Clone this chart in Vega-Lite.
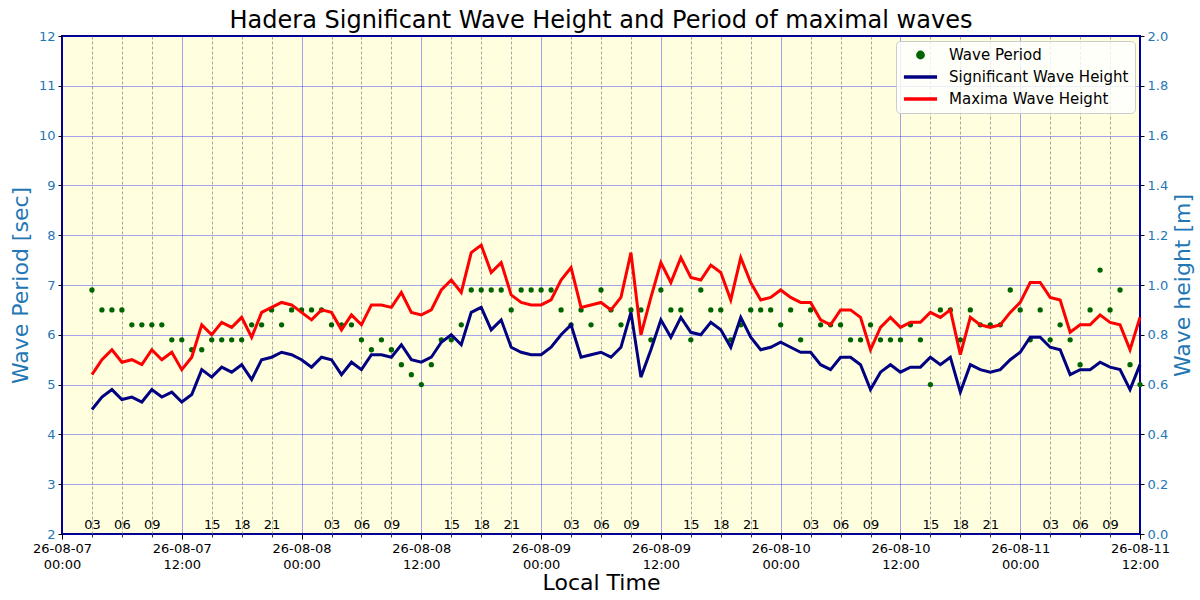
{
  "$schema": "https://vega.github.io/schema/vega-lite/v6.json",
  "width": 1078,
  "height": 498,
  "autosize": "none",
  "padding": {"left": 62, "top": 36, "right": 60, "bottom": 66},
  "title": {"text": "Hadera Significant Wave Height and Period of maximal waves", "fontSize": 24, "fontWeight": "normal", "offset": -3},
  "data": {
    "values": [
      {"t": "2026-08-07T03:00", "period": 6.9, "hs": 0.50, "hmax": 0.64},
      {"t": "2026-08-07T04:00", "period": 6.5, "hs": 0.55, "hmax": 0.70},
      {"t": "2026-08-07T05:00", "period": 6.5, "hs": 0.58, "hmax": 0.74},
      {"t": "2026-08-07T06:00", "period": 6.5, "hs": 0.54, "hmax": 0.69},
      {"t": "2026-08-07T07:00", "period": 6.2, "hs": 0.55, "hmax": 0.70},
      {"t": "2026-08-07T08:00", "period": 6.2, "hs": 0.53, "hmax": 0.68},
      {"t": "2026-08-07T09:00", "period": 6.2, "hs": 0.58, "hmax": 0.74},
      {"t": "2026-08-07T10:00", "period": 6.2, "hs": 0.55, "hmax": 0.70},
      {"t": "2026-08-07T11:00", "period": 5.9, "hs": 0.57, "hmax": 0.73},
      {"t": "2026-08-07T12:00", "period": 5.9, "hs": 0.53, "hmax": 0.66},
      {"t": "2026-08-07T13:00", "period": 5.7, "hs": 0.56, "hmax": 0.71},
      {"t": "2026-08-07T14:00", "period": 5.7, "hs": 0.66, "hmax": 0.84},
      {"t": "2026-08-07T15:00", "period": 5.9, "hs": 0.63, "hmax": 0.80},
      {"t": "2026-08-07T16:00", "period": 5.9, "hs": 0.67, "hmax": 0.85},
      {"t": "2026-08-07T17:00", "period": 5.9, "hs": 0.65, "hmax": 0.83},
      {"t": "2026-08-07T18:00", "period": 5.9, "hs": 0.68, "hmax": 0.87},
      {"t": "2026-08-07T19:00", "period": 6.2, "hs": 0.62, "hmax": 0.79},
      {"t": "2026-08-07T20:00", "period": 6.2, "hs": 0.70, "hmax": 0.89},
      {"t": "2026-08-07T21:00", "period": 6.5, "hs": 0.71, "hmax": 0.91},
      {"t": "2026-08-07T22:00", "period": 6.2, "hs": 0.73, "hmax": 0.93},
      {"t": "2026-08-07T23:00", "period": 6.5, "hs": 0.72, "hmax": 0.92},
      {"t": "2026-08-08T00:00", "period": 6.5, "hs": 0.70, "hmax": 0.89},
      {"t": "2026-08-08T01:00", "period": 6.5, "hs": 0.67, "hmax": 0.86},
      {"t": "2026-08-08T02:00", "period": 6.5, "hs": 0.71, "hmax": 0.90},
      {"t": "2026-08-08T03:00", "period": 6.2, "hs": 0.70, "hmax": 0.89},
      {"t": "2026-08-08T04:00", "period": 6.2, "hs": 0.64, "hmax": 0.82},
      {"t": "2026-08-08T05:00", "period": 6.2, "hs": 0.69, "hmax": 0.88},
      {"t": "2026-08-08T06:00", "period": 5.9, "hs": 0.66, "hmax": 0.84},
      {"t": "2026-08-08T07:00", "period": 5.7, "hs": 0.72, "hmax": 0.92},
      {"t": "2026-08-08T08:00", "period": 5.9, "hs": 0.72, "hmax": 0.92},
      {"t": "2026-08-08T09:00", "period": 5.7, "hs": 0.71, "hmax": 0.91},
      {"t": "2026-08-08T10:00", "period": 5.4, "hs": 0.76, "hmax": 0.97},
      {"t": "2026-08-08T11:00", "period": 5.2, "hs": 0.70, "hmax": 0.89},
      {"t": "2026-08-08T12:00", "period": 5.0, "hs": 0.69, "hmax": 0.88},
      {"t": "2026-08-08T13:00", "period": 5.4, "hs": 0.71, "hmax": 0.90},
      {"t": "2026-08-08T14:00", "period": 5.9, "hs": 0.77, "hmax": 0.98},
      {"t": "2026-08-08T15:00", "period": 5.9, "hs": 0.80, "hmax": 1.02},
      {"t": "2026-08-08T16:00", "period": 6.2, "hs": 0.76, "hmax": 0.97},
      {"t": "2026-08-08T17:00", "period": 6.9, "hs": 0.89, "hmax": 1.13},
      {"t": "2026-08-08T18:00", "period": 6.9, "hs": 0.91, "hmax": 1.16},
      {"t": "2026-08-08T19:00", "period": 6.9, "hs": 0.82, "hmax": 1.05},
      {"t": "2026-08-08T20:00", "period": 6.9, "hs": 0.86, "hmax": 1.09},
      {"t": "2026-08-08T21:00", "period": 6.5, "hs": 0.75, "hmax": 0.96},
      {"t": "2026-08-08T22:00", "period": 6.9, "hs": 0.73, "hmax": 0.93},
      {"t": "2026-08-08T23:00", "period": 6.9, "hs": 0.72, "hmax": 0.92},
      {"t": "2026-08-09T00:00", "period": 6.9, "hs": 0.72, "hmax": 0.92},
      {"t": "2026-08-09T01:00", "period": 6.9, "hs": 0.75, "hmax": 0.94},
      {"t": "2026-08-09T02:00", "period": 6.5, "hs": 0.80, "hmax": 1.02},
      {"t": "2026-08-09T03:00", "period": 6.2, "hs": 0.84, "hmax": 1.07},
      {"t": "2026-08-09T04:00", "period": 6.5, "hs": 0.71, "hmax": 0.91},
      {"t": "2026-08-09T05:00", "period": 6.2, "hs": 0.72, "hmax": 0.92},
      {"t": "2026-08-09T06:00", "period": 6.9, "hs": 0.73, "hmax": 0.93},
      {"t": "2026-08-09T07:00", "period": 6.5, "hs": 0.71, "hmax": 0.90},
      {"t": "2026-08-09T08:00", "period": 6.2, "hs": 0.75, "hmax": 0.95},
      {"t": "2026-08-09T09:00", "period": 6.5, "hs": 0.89, "hmax": 1.13},
      {"t": "2026-08-09T10:00", "period": 6.5, "hs": 0.63, "hmax": 0.80},
      {"t": "2026-08-09T11:00", "period": 5.9, "hs": 0.74, "hmax": 0.95},
      {"t": "2026-08-09T12:00", "period": 6.9, "hs": 0.86, "hmax": 1.09},
      {"t": "2026-08-09T13:00", "period": 6.5, "hs": 0.79, "hmax": 1.01},
      {"t": "2026-08-09T14:00", "period": 6.5, "hs": 0.87, "hmax": 1.11},
      {"t": "2026-08-09T15:00", "period": 5.9, "hs": 0.81, "hmax": 1.03},
      {"t": "2026-08-09T16:00", "period": 6.9, "hs": 0.80, "hmax": 1.02},
      {"t": "2026-08-09T17:00", "period": 6.5, "hs": 0.85, "hmax": 1.08},
      {"t": "2026-08-09T18:00", "period": 6.5, "hs": 0.82, "hmax": 1.05},
      {"t": "2026-08-09T19:00", "period": 5.9, "hs": 0.75, "hmax": 0.94},
      {"t": "2026-08-09T20:00", "period": 6.2, "hs": 0.87, "hmax": 1.11},
      {"t": "2026-08-09T21:00", "period": 6.5, "hs": 0.79, "hmax": 1.01},
      {"t": "2026-08-09T22:00", "period": 6.5, "hs": 0.74, "hmax": 0.94},
      {"t": "2026-08-09T23:00", "period": 6.5, "hs": 0.75, "hmax": 0.95},
      {"t": "2026-08-10T00:00", "period": 6.2, "hs": 0.77, "hmax": 0.98},
      {"t": "2026-08-10T01:00", "period": 6.5, "hs": 0.75, "hmax": 0.95},
      {"t": "2026-08-10T02:00", "period": 5.9, "hs": 0.73, "hmax": 0.93},
      {"t": "2026-08-10T03:00", "period": 6.5, "hs": 0.73, "hmax": 0.93},
      {"t": "2026-08-10T04:00", "period": 6.2, "hs": 0.68, "hmax": 0.86},
      {"t": "2026-08-10T05:00", "period": 6.2, "hs": 0.66, "hmax": 0.84},
      {"t": "2026-08-10T06:00", "period": 6.2, "hs": 0.71, "hmax": 0.90},
      {"t": "2026-08-10T07:00", "period": 5.9, "hs": 0.71, "hmax": 0.90},
      {"t": "2026-08-10T08:00", "period": 5.9, "hs": 0.68, "hmax": 0.87},
      {"t": "2026-08-10T09:00", "period": 6.2, "hs": 0.58, "hmax": 0.74},
      {"t": "2026-08-10T10:00", "period": 5.9, "hs": 0.65, "hmax": 0.83},
      {"t": "2026-08-10T11:00", "period": 5.9, "hs": 0.68, "hmax": 0.87},
      {"t": "2026-08-10T12:00", "period": 5.9, "hs": 0.65, "hmax": 0.83},
      {"t": "2026-08-10T13:00", "period": 6.2, "hs": 0.67, "hmax": 0.85},
      {"t": "2026-08-10T14:00", "period": 5.9, "hs": 0.67, "hmax": 0.85},
      {"t": "2026-08-10T15:00", "period": 5.0, "hs": 0.71, "hmax": 0.89},
      {"t": "2026-08-10T16:00", "period": 6.5, "hs": 0.68, "hmax": 0.87},
      {"t": "2026-08-10T17:00", "period": 6.5, "hs": 0.71, "hmax": 0.90},
      {"t": "2026-08-10T18:00", "period": 5.9, "hs": 0.57, "hmax": 0.72},
      {"t": "2026-08-10T19:00", "period": 6.5, "hs": 0.68, "hmax": 0.87},
      {"t": "2026-08-10T20:00", "period": 6.2, "hs": 0.66, "hmax": 0.84},
      {"t": "2026-08-10T21:00", "period": 6.2, "hs": 0.65, "hmax": 0.83},
      {"t": "2026-08-10T22:00", "period": 6.2, "hs": 0.66, "hmax": 0.84},
      {"t": "2026-08-10T23:00", "period": 6.9, "hs": 0.70, "hmax": 0.89},
      {"t": "2026-08-11T00:00", "period": 6.5, "hs": 0.73, "hmax": 0.93},
      {"t": "2026-08-11T01:00", "period": 5.9, "hs": 0.79, "hmax": 1.01},
      {"t": "2026-08-11T02:00", "period": 6.5, "hs": 0.79, "hmax": 1.01},
      {"t": "2026-08-11T03:00", "period": 5.9, "hs": 0.75, "hmax": 0.95},
      {"t": "2026-08-11T04:00", "period": 6.2, "hs": 0.74, "hmax": 0.94},
      {"t": "2026-08-11T05:00", "period": 5.9, "hs": 0.64, "hmax": 0.81},
      {"t": "2026-08-11T06:00", "period": 5.4, "hs": 0.66, "hmax": 0.84},
      {"t": "2026-08-11T07:00", "period": 6.5, "hs": 0.66, "hmax": 0.84},
      {"t": "2026-08-11T08:00", "period": 7.3, "hs": 0.69, "hmax": 0.88},
      {"t": "2026-08-11T09:00", "period": 6.5, "hs": 0.67, "hmax": 0.85},
      {"t": "2026-08-11T10:00", "period": 6.9, "hs": 0.66, "hmax": 0.84},
      {"t": "2026-08-11T11:00", "period": 5.4, "hs": 0.58, "hmax": 0.74},
      {"t": "2026-08-11T12:00", "period": 5.0, "hs": 0.68, "hmax": 0.87}
    ]
  },
  "layer": [
    {
      "mark": {"type": "point", "filled": true, "size": 28, "opacity": 1},
      "encoding": {
        "x": {
          "field": "t", "type": "temporal",
          "scale": {"domain": [{"year": 2026, "month": 8, "date": 7, "hours": 0}, {"year": 2026, "month": 8, "date": 11, "hours": 12}], "nice": false},
          "axis": {
            "orient": "bottom", "title": null, "domain": false,
            "values": [
              {"year": 2026, "month": 8, "date": 7, "hours": 3}, {"year": 2026, "month": 8, "date": 7, "hours": 6}, {"year": 2026, "month": 8, "date": 7, "hours": 9},
              {"year": 2026, "month": 8, "date": 7, "hours": 15}, {"year": 2026, "month": 8, "date": 7, "hours": 18}, {"year": 2026, "month": 8, "date": 7, "hours": 21},
              {"year": 2026, "month": 8, "date": 8, "hours": 3}, {"year": 2026, "month": 8, "date": 8, "hours": 6}, {"year": 2026, "month": 8, "date": 8, "hours": 9},
              {"year": 2026, "month": 8, "date": 8, "hours": 15}, {"year": 2026, "month": 8, "date": 8, "hours": 18}, {"year": 2026, "month": 8, "date": 8, "hours": 21},
              {"year": 2026, "month": 8, "date": 9, "hours": 3}, {"year": 2026, "month": 8, "date": 9, "hours": 6}, {"year": 2026, "month": 8, "date": 9, "hours": 9},
              {"year": 2026, "month": 8, "date": 9, "hours": 15}, {"year": 2026, "month": 8, "date": 9, "hours": 18}, {"year": 2026, "month": 8, "date": 9, "hours": 21},
              {"year": 2026, "month": 8, "date": 10, "hours": 3}, {"year": 2026, "month": 8, "date": 10, "hours": 6}, {"year": 2026, "month": 8, "date": 10, "hours": 9},
              {"year": 2026, "month": 8, "date": 10, "hours": 15}, {"year": 2026, "month": 8, "date": 10, "hours": 18}, {"year": 2026, "month": 8, "date": 10, "hours": 21},
              {"year": 2026, "month": 8, "date": 11, "hours": 3}, {"year": 2026, "month": 8, "date": 11, "hours": 6}, {"year": 2026, "month": 8, "date": 11, "hours": 9}
            ],
            "format": "%H",
            "labelFontSize": 13, "labelColor": "black", "labelPadding": -19,
            "labelFlush": false, "labelOverlap": false,
            "ticks": true, "tickSize": 3, "tickColor": "black", "tickWidth": 0.8,
            "grid": true, "gridColor": "#808080", "gridDash": [3, 2], "gridWidth": 0.7
          }
        },
        "y": {
          "field": "period", "type": "quantitative",
          "scale": {"domain": [2, 12], "nice": false, "zero": false},
          "axis": {
            "orient": "left", "title": "Wave Period [sec]", "values": [2, 3, 4, 5, 6, 7, 8, 9, 10, 11, 12],
            "grid": true, "gridColor": "#0000ff", "gridOpacity": 0.45, "gridWidth": 0.8,
            "domain": false, "tickColor": "black", "tickSize": 4,
            "labelColor": "#1f77b4", "labelFontSize": 13, "labelPadding": 3,
            "titleColor": "#1f77b4", "titleFontSize": 22, "titleFontWeight": "normal", "titlePadding": 6
          }
        },
        "color": {
          "datum": "period", "type": "nominal", "title": null,
          "scale": {"domain": ["period", "hs", "hmax"], "range": ["#006400", "#000080", "#ff0000"]},
          "legend": {
            "orient": "top-right", "offset": 5, "title": null,
            "labelExpr": "datum.label == 'period' ? 'Wave Period' : datum.label == 'hs' ? 'Significant Wave Height' : 'Maxima Wave Height'",
            "labelFontSize": 15, "labelLimit": 300, "labelOffset": 10,
            "symbolType": "stroke", "symbolSize": 1100, "symbolStrokeWidth": 3.5,
            "clipHeight": 16, "rowPadding": 6, "padding": 6,
            "fillColor": "rgba(255,255,255,0.8)", "strokeColor": "#cccccc", "cornerRadius": 4,
            "encode": {
              "symbols": {
                "update": {
                  "shape": {"signal": "datum.value == 'period' ? 'circle' : 'stroke'"},
                  "size": {"signal": "datum.value == 'period' ? 28 : 1100"},
                  "fill": {"signal": "datum.value == 'period' ? '#006400' : 'transparent'"},
                  "stroke": {"signal": "datum.value == 'period' ? 'transparent' : datum.value == 'hs' ? '#000080' : '#ff0000'"},
                  "strokeWidth": {"value": 3.5},
                  "opacity": {"value": 1}
                }
              }
            }
          }
        }
      }
    },
    {
      "transform": [{"fold": ["hs", "hmax"], "as": ["series", "height"]}],
      "mark": {"type": "line", "strokeWidth": 3},
      "encoding": {
        "x": {
          "field": "t", "type": "temporal",
          "axis": {
            "orient": "bottom", "title": "Local Time", "titleFontSize": 22, "titleFontWeight": "normal", "titlePadding": 1,
            "domain": false,
            "values": [
              {"year": 2026, "month": 8, "date": 7, "hours": 0}, {"year": 2026, "month": 8, "date": 7, "hours": 12},
              {"year": 2026, "month": 8, "date": 8, "hours": 0}, {"year": 2026, "month": 8, "date": 8, "hours": 12},
              {"year": 2026, "month": 8, "date": 9, "hours": 0}, {"year": 2026, "month": 8, "date": 9, "hours": 12},
              {"year": 2026, "month": 8, "date": 10, "hours": 0}, {"year": 2026, "month": 8, "date": 10, "hours": 12},
              {"year": 2026, "month": 8, "date": 11, "hours": 0}, {"year": 2026, "month": 8, "date": 11, "hours": 12}
            ],
            "labelExpr": "[timeFormat(datum.value, '%y-%m-%d'), timeFormat(datum.value, '%H:%M')]",
            "labelFontSize": 13, "labelColor": "black", "labelLineHeight": 16, "labelPadding": 3,
            "labelFlush": false, "labelOverlap": false,
            "ticks": true, "tickSize": 5, "tickColor": "black",
            "grid": true, "gridColor": "#0000ff", "gridOpacity": 0.45, "gridWidth": 0.8
          }
        },
        "y": {
          "field": "height", "type": "quantitative",
          "scale": {"domain": [0, 2], "nice": false},
          "axis": {
            "orient": "right", "title": "Wave height [m]", "titleAngle": 270, "titleBaseline": "top",
            "values": [0, 0.2, 0.4, 0.6, 0.8, 1.0, 1.2, 1.4, 1.6, 1.8, 2.0], "format": ".1f",
            "grid": false, "domain": false, "tickColor": "black", "tickSize": 4,
            "labelColor": "#1f77b4", "labelFontSize": 13, "labelPadding": 3,
            "titleColor": "#1f77b4", "titleFontSize": 22, "titleFontWeight": "normal", "titlePadding": 5
          }
        },
        "color": {
          "field": "series", "type": "nominal", "title": null,
          "legend": {
            "orient": "top-right", "offset": 5, "title": null,
            "labelExpr": "datum.label == 'period' ? 'Wave Period' : datum.label == 'hs' ? 'Significant Wave Height' : 'Maxima Wave Height'",
            "labelFontSize": 15, "labelLimit": 300, "labelOffset": 10,
            "symbolType": "stroke", "symbolSize": 1100, "symbolStrokeWidth": 3.5,
            "clipHeight": 16, "rowPadding": 6, "padding": 6,
            "fillColor": "rgba(255,255,255,0.8)", "strokeColor": "#cccccc", "cornerRadius": 4,
            "encode": {
              "symbols": {
                "update": {
                  "shape": {"signal": "datum.value == 'period' ? 'circle' : 'stroke'"},
                  "size": {"signal": "datum.value == 'period' ? 28 : 1100"},
                  "fill": {"signal": "datum.value == 'period' ? '#006400' : 'transparent'"},
                  "stroke": {"signal": "datum.value == 'period' ? 'transparent' : datum.value == 'hs' ? '#000080' : '#ff0000'"},
                  "strokeWidth": {"value": 3.5},
                  "opacity": {"value": 1}
                }
              }
            }
          }
        }
      }
    }
  ],
  "resolve": {"scale": {"y": "independent"}, "axis": {"x": "independent"}},
  "config": {
    "font": "DejaVu Sans",
    "view": {"fill": "#ffffe0", "stroke": "#000080", "strokeWidth": 2}
  }
}
